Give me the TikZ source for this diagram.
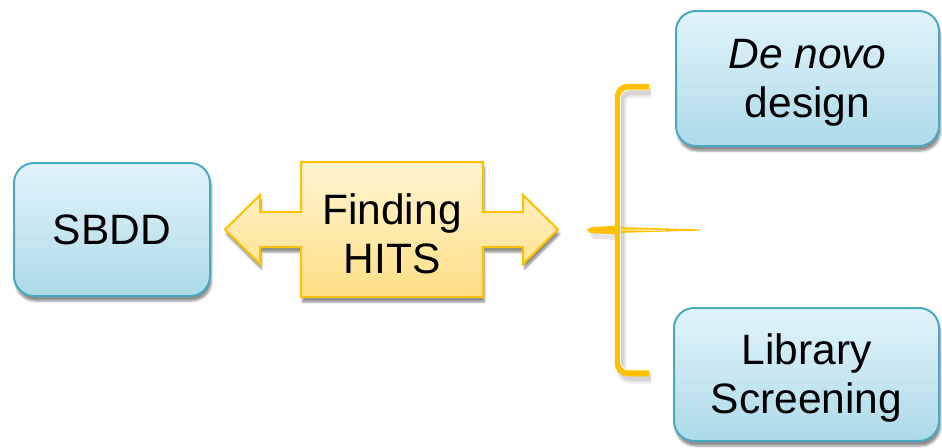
\documentclass[tikz,border=0pt]{standalone}
\usepackage{fontspec}
\setmainfont{Liberation Sans}
\usetikzlibrary{shadows.blur}
\definecolor{boxtop}{HTML}{E2F4FB}
\definecolor{boxbot}{HTML}{ADDAE8}
\definecolor{boxline}{HTML}{4AA9C2}
\definecolor{arrtop}{HTML}{FFF5D2}
\definecolor{arrbot}{HTML}{FFDF85}
\definecolor{gold}{HTML}{FFC000}
\begin{document}
\begin{tikzpicture}[x=1pt,y=-1pt,
  softshadow/.style={blur shadow={shadow xshift=1.5pt, shadow yshift=-5pt, shadow blur steps=6, shadow opacity=45}},
  card/.style={draw=boxline, line width=2pt, rounded corners=20pt,
    top color=boxtop, bottom color=boxbot, softshadow,
    font=\fontsize{42.5}{49}\selectfont, align=center, text=black, inner sep=0pt},
  txt/.style={font=\fontsize{42.5}{49}\selectfont, align=center, text=black, inner sep=0pt}]
\useasboundingbox (0,0) rectangle (942,447);

% blue boxes
\node[card, minimum width=196pt, minimum height=133pt] (sbdd) at (112,229.5) {SBDD};
\node[card, minimum width=263pt, minimum height=135pt] (denovo) at (807.5,78.5) {};
\node[txt] at (807.5,83) {\itshape De novo\\design};
\node[card, minimum width=265pt, minimum height=133pt] (library) at (806.5,374.5) {};
\node[txt] at (806.5,378.5) {Library\\Screening};

% left-right arrow callout
\path[draw=gold, line width=2pt, line join=miter, top color=arrtop, bottom color=arrbot, softshadow]
  (301,162) -- (483,162) -- (483,212) -- (523,212) -- (523,195) -- (558,229.5)
  -- (523,264) -- (523,247) -- (483,247) -- (483,297) -- (301,297) -- (301,247)
  -- (260,247) -- (260,264) -- (225,229.5) -- (260,195) -- (260,212) -- (301,212) -- cycle;
\node[txt] (hits) at (392,234) {Finding\\HITS};

% brace: soft shadow
\foreach \w/\o in {12/0.04, 9/0.06, 6/0.08}
  \draw[black, opacity=\o, line width=\w pt, rounded corners=10pt]
    (651,92) -- (621,92) -- (621,378) -- (651,378);
\fill[black, opacity=0.10] (620,232) -- (592,233) -- (590,236) -- (594,239) -- (620,240) -- cycle;

% brace body
\draw[gold, line width=6.5pt, rounded corners=10pt] (649,87) -- (618,87) -- (618,373) -- (649,373);
\fill[gold] (619,225.5) -- (592,227) -- (587,229.5) -- (590,233) -- (619,234.5) -- cycle;
\fill[gold] (617,227) -- (700,229.4) -- (700,230.6) -- (617,233) -- cycle;
% brace highlight
\draw[white, line width=0.9pt, rounded corners=8pt] (649,90) -- (620.5,90) -- (620.5,370) -- (649,370);
\draw[white, line width=0.8pt] (621,230) -- (665,230.2);
\end{tikzpicture}
\end{document}
